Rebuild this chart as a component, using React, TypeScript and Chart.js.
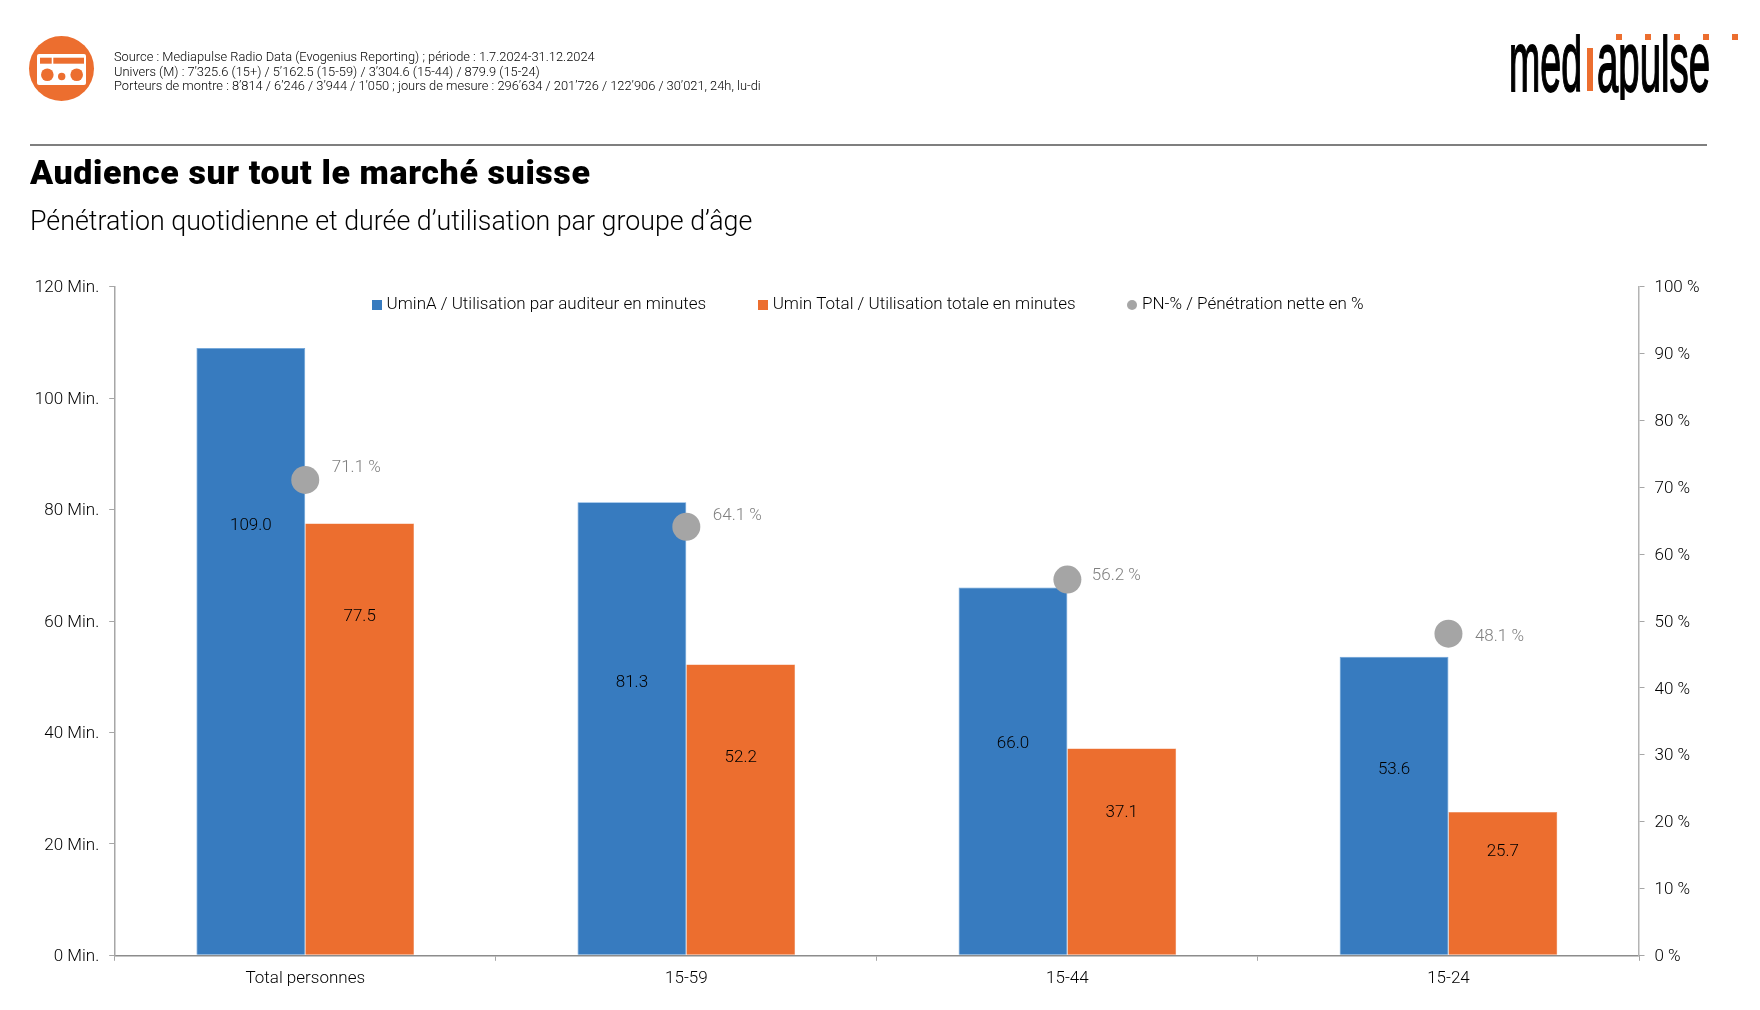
import React, { useEffect, useRef } from "react";
import { Chart, registerables } from "chart.js";

Chart.register(...registerables);

const categories = ["Total personnes", "15-59", "15-44", "15-24"];
const uminA = [109.0, 81.3, 66.0, 53.6];
const uminTotal = [77.5, 52.2, 37.1, 25.7];
const penetration = [71.1, 64.1, 56.2, 48.1];
// Heights (in minutes, on the left axis) at which the bar labels sit in the original
const uminALabelLevel = [77.4, 49.2, 38.4, 33.6];
const uminTotalLabelLevel = [61.2, 35.9, 26.0, 18.9];
const penetrationLabelNudge = [[51, -14], [51, -13], [49, -6], [51, 1]];

const FONT = "Roboto, 'Liberation Sans', sans-serif";
const BLUE = "#377BBF";
const ORANGE = "#EC6E2F";
const GREY = "#A5A5A5";
const SIZE = 17;
const TEXT_DROP = 2;

function swatch(kind: "rect" | "circle", color: string) {
  const c = document.createElement("canvas");
  c.width = 10;
  c.height = 10;
  const g = c.getContext("2d")!;
  g.fillStyle = color;
  if (kind === "rect") g.fillRect(0, 0, 10, 10);
  else {
    g.beginPath();
    g.arc(5, 5, 5, 0, Math.PI * 2);
    g.fill();
  }
  return c;
}

const labelsPlugin = {
  id: "valueLabels",
  afterDatasetsDraw(chart: any) {
    const { ctx, scales } = chart;
    ctx.save();
    ctx.font = `300 ${SIZE}px ${FONT}`;
    ctx.textAlign = "center";
    ctx.textBaseline = "middle";
    ctx.fillStyle = "#000";
    chart.getDatasetMeta(1).data.forEach((el: any, i: number) => {
      ctx.fillText(uminA[i].toFixed(1), el.x, scales.y.getPixelForValue(uminALabelLevel[i]) + TEXT_DROP);
    });
    chart.getDatasetMeta(2).data.forEach((el: any, i: number) => {
      ctx.fillText(uminTotal[i].toFixed(1), el.x, scales.y.getPixelForValue(uminTotalLabelLevel[i]) + TEXT_DROP);
    });
    ctx.fillStyle = "#808080";
    chart.getDatasetMeta(0).data.forEach((el: any, i: number) => {
      const [dx, dy] = penetrationLabelNudge[i];
      ctx.fillText(`${penetration[i].toFixed(1)} %`, el.x + dx, el.y + dy + TEXT_DROP);
    });
    ctx.restore();
  },
};

const legendPlacement = {
  id: "legendPlacement",
  afterLayout(chart: any) {
    const l = chart.legend;
    const dy = 305 - (l.top + 55 + SIZE / 2);
    l.top += dy;
    l.bottom += dy;
    l.left -= 10.7;
    l.right -= 10.7;
  },
};

const abs = (left: number, top: number, extra: React.CSSProperties = {}): React.CSSProperties => ({
  position: "absolute",
  left,
  top,
  whiteSpace: "nowrap",
  fontFamily: FONT,
  color: "#000",
  ...extra,
});

export default function App() {
  const ref = useRef<HTMLCanvasElement>(null);
  useEffect(() => {
    document.body.style.margin = "0";
    document.body.style.background = "#fff";
    const chart = new Chart(ref.current!, {
      type: "bar",
      data: {
        labels: categories,
        datasets: [
          {
            type: "line",
            label: "PN-% / Pénétration nette en %",
            data: penetration,
            yAxisID: "y1",
            showLine: false,
            pointRadius: 14,
            pointBackgroundColor: GREY,
            pointBorderWidth: 0,
            backgroundColor: GREY,
            order: 0,
          },
          {
            label: "UminA / Utilisation par auditeur en minutes",
            data: uminA,
            backgroundColor: BLUE,
            borderColor: "#6AA3DC",
            borderWidth: 0.75,
            yAxisID: "y",
            order: 1,
          },
          {
            label: "Umin Total / Utilisation totale en minutes",
            data: uminTotal,
            backgroundColor: ORANGE,
            borderColor: "#EE7F47",
            borderWidth: 0.5,
            yAxisID: "y",
            order: 2,
          },
        ] as any,
      },
      options: {
        animation: false,
        responsive: false,
        devicePixelRatio: 1,
        layout: { padding: { top: 286.7 - (SIZE + 55 + 10), left: 0, right: 0, bottom: 0 } },
        datasets: { bar: { barPercentage: 1, categoryPercentage: 0.571 } },
        scales: {
          x: {
            grid: { drawOnChartArea: false, tickLength: 5.5, color: "#A6A6A6", lineWidth: 1 },
            border: { color: "#8C8C8C", width: 1.5 },
            ticks: { font: { family: FONT, size: SIZE, weight: "300" }, color: "#000", padding: 8, maxRotation: 0 },
            afterFit: (s: any) => { s.height = 1010 - 955.3; },
          },
          y: {
            position: "left",
            min: 0,
            max: 120,
            grid: { drawOnChartArea: false, tickLength: 5.5, color: "#A6A6A6", lineWidth: 1 },
            border: { color: "#A6A6A6", width: 1.5 },
            ticks: { stepSize: 20, labelOffset: 1.5, font: { family: FONT, size: SIZE, weight: "300" }, color: "#000", padding: 10, callback: (v: any) => `${v} Min.` },
            afterFit: (s: any) => { s.width = 114.7; },
          },
          y1: {
            position: "right",
            min: 0,
            max: 100,
            grid: { drawOnChartArea: false, tickLength: 5.5, color: "#A6A6A6", lineWidth: 1 },
            border: { color: "#B4B4B4", width: 1.5 },
            ticks: { stepSize: 10, labelOffset: 1.5, font: { family: FONT, size: SIZE, weight: "300" }, color: "#000", padding: 10, callback: (v: any) => `${v} %` },
            afterFit: (s: any) => { s.width = 1760 - 1639; },
          },
        },
        plugins: {
          tooltip: { enabled: false },
          legend: {
            position: "top",
            labels: {
              usePointStyle: true,
              pointStyleWidth: 3,
              padding: 55,
              color: "#000",
              font: { family: FONT, size: SIZE, weight: "300" },
              sort: (a: any, b: any) => a.order - b.order,
              generateLabels: (c: any) => [
                { text: c.data.datasets[1].label, pointStyle: swatch("rect", BLUE), datasetIndex: 1, order: 0, fontColor: "#000", lineWidth: 0, strokeStyle: "transparent", fillStyle: BLUE },
                { text: c.data.datasets[2].label, pointStyle: swatch("rect", ORANGE), datasetIndex: 2, order: 1, fontColor: "#000", lineWidth: 0, strokeStyle: "transparent", fillStyle: ORANGE },
                { text: c.data.datasets[0].label, pointStyle: swatch("circle", GREY), datasetIndex: 0, order: 2, fontColor: "#000", lineWidth: 0, strokeStyle: "transparent", fillStyle: GREY },
              ],
            },
          },
        },
      } as any,
      plugins: [labelsPlugin, legendPlacement],
    } as any);
    return () => chart.destroy();
  }, []);

  const small: React.CSSProperties = { fontSize: 12.85, fontWeight: 300, lineHeight: "14px" };
  return (
    <div style={{ position: "relative", width: 1760, height: 1010, overflow: "hidden", background: "#fff" }}>
      <canvas ref={ref} width={1760} height={1010} style={{ position: "absolute", left: 0, top: 0, width: 1760, height: 1010 }} />
      <svg width={1760} height={130} style={{ position: "absolute", left: 0, top: 0 }}>
        <defs>
          <clipPath id="logoClip"><rect x={1500} y={34} width={220} height={66} /></clipPath>
        </defs>
        <circle cx={61.5} cy={68.5} r={32.5} fill={ORANGE} />
        <rect x={37} y={54} width={49} height={31} rx={2} fill="#fff" />
        <rect x={40} y={57.7} width={11.7} height={6} fill={ORANGE} />
        <rect x={53.3} y={57.7} width={30.7} height={6} fill={ORANGE} />
        <circle cx={47.3} cy={74.7} r={6.3} fill={ORANGE} />
        <circle cx={61.7} cy={76.5} r={3.7} fill={ORANGE} />
        <circle cx={76.7} cy={74.7} r={6.3} fill={ORANGE} />
        <g clipPath="url(#logoClip)">
          <text x={1509} y={90.7} fontFamily="'Liberation Sans'" fontWeight={400} fontSize={85} textLength={73} lengthAdjust="spacingAndGlyphs" fill="#000" stroke="#000" strokeWidth={1.8}>med</text>
          <text x={1597} y={90.7} fontFamily="'Liberation Sans'" fontWeight={400} fontSize={85} textLength={113} lengthAdjust="spacingAndGlyphs" fill="#000" stroke="#000" strokeWidth={1.8}>apulse</text>
        </g>
        <rect x={1587} y={48} width={6} height={43} fill={ORANGE} />
        {[1616, 1645, 1674, 1703, 1732].map((x) => (
          <rect key={x} x={x} y={34} width={6} height={6} fill={ORANGE} />
        ))}
      </svg>
      <div style={abs(114, 49.7, small)}>Source : Mediapulse Radio Data (Evogenius Reporting) ; période : 1.7.2024-31.12.2024</div>
      <div style={abs(114, 64.5, small)}>Univers (M) : 7’325.6 (15+) / 5’162.5 (15-59) / 3’304.6 (15-44) / 879.9 (15-24)</div>
      <div style={abs(114, 78.7, small)}>Porteurs de montre : 8’814 / 6’246 / 3’944 / 1’050 ; jours de mesure : 296’634 / 201’726 / 122’906 / 30’021, 24h, lu-di</div>
      <div style={{ position: "absolute", left: 30, top: 144, width: 1677, height: 2, background: "#7F7F7F" }} />
      <div style={abs(30, 151, { fontSize: 34, fontWeight: 900, letterSpacing: "0.6px", lineHeight: "42px" })}>Audience sur tout le marché suisse</div>
      <div style={abs(30, 204, { fontSize: 26.8, fontWeight: 300, lineHeight: "34px" })}>Pénétration quotidienne et durée d’utilisation par groupe d’âge</div>
    </div>
  );
}
